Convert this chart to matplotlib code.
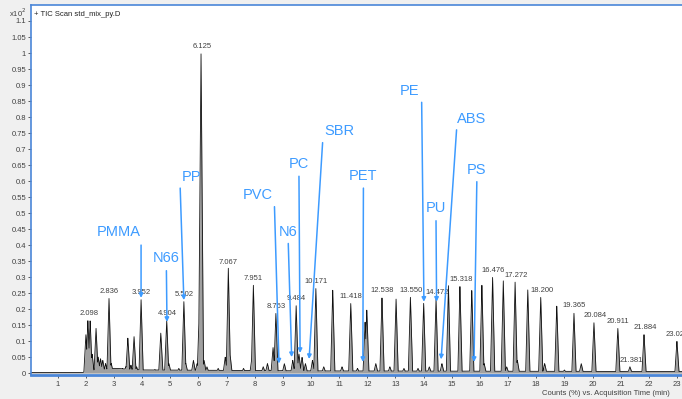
import numpy as np
import matplotlib
matplotlib.use('Agg')
import matplotlib.pyplot as plt

plt.rcParams['font.family'] = ['Liberation Sans', 'DejaVu Sans']

# peak retention times (min) and heights (x10^2 counts %)
peak_rt = [2.0, 2.07, 2.15, 2.22, 2.36, 2.44, 2.52, 2.6, 2.7, 2.82, 2.9,
           3.3, 3.42, 3.49, 3.6, 3.71, 3.8, 3.96, 4.2, 4.45, 4.66, 4.87, 4.95,
           5.3, 5.48, 5.55, 5.82, 5.95, 6.03, 6.09, 6.2, 6.3, 6.7, 6.95, 7.06, 7.12,
           7.6, 7.9, 7.95, 8.3, 8.45, 8.65, 8.75, 9.05, 9.35, 9.47, 9.57, 9.68, 9.8,
           10.05, 10.17, 10.45, 10.77, 11.1, 11.41, 11.65, 11.92, 11.98, 12.3, 12.52,
           12.8, 13.02, 13.3, 13.53, 13.8, 14.0, 14.2, 14.44, 14.65, 14.88, 15.29,
           15.71, 16.07, 16.15, 16.45, 16.83, 16.95, 17.25, 17.33, 17.7, 18.16, 18.3,
           18.73, 19.0, 19.34, 19.6, 20.05, 20.9, 21.33, 21.83, 23.0]
peak_h = [0.12, 0.165, 0.165, 0.06, 0.14, 0.05, 0.045, 0.04, 0.03, 0.235, 0.03,
          0.015, 0.02, 0.11, 0.025, 0.115, 0.02, 0.23, 0.01, 0.012, 0.125, 0.165, 0.03,
          0.015, 0.225, 0.03, 0.04, 0.03, 0.2, 1.0, 0.04, 0.02, 0.015, 0.05, 0.328, 0.06,
          0.015, 0.05, 0.275, 0.02, 0.03, 0.08, 0.187, 0.03, 0.04, 0.212, 0.06, 0.05, 0.03,
          0.04, 0.265, 0.02, 0.26, 0.02, 0.218, 0.015, 0.16, 0.2, 0.03, 0.238,
          0.02, 0.233, 0.015, 0.237, 0.015, 0.22, 0.02, 0.233, 0.03, 0.275, 0.272,
          0.262, 0.278, 0.03, 0.3, 0.29, 0.02, 0.285, 0.04, 0.26, 0.238, 0.03,
          0.212, 0.01, 0.19, 0.03, 0.16, 0.14, 0.02, 0.122, 0.1]

# baseline level
base_t = [0.05, 1.9, 2.0, 3.0, 4.0, 6.0, 10.0, 16.0, 23.2]
base_y = [0.002, 0.002, 0.008, 0.015, 0.01, 0.009, 0.007, 0.006, 0.005]

# labelled peaks
lab_txt = ['2.098', '2.836', '3.952', '4.904', '5.502', '6.125', '7.067', '7.951',
           '8.763', '9.484', '10.171', '11.418', '12.538', '13.550', '14.472',
           '15.318', '16.476', '17.272', '18.200', '19.365', '20.084', '20.911',
           '21.381', '21.884', '23.020']
lab_h = [0.168, 0.236, 0.232, 0.166, 0.226, 1.0, 0.328, 0.276, 0.188, 0.213, 0.266,
         0.219, 0.239, 0.238, 0.234, 0.273, 0.301, 0.286, 0.239, 0.191, 0.161, 0.141,
         0.021, 0.123, 0.101]

# polymer markers: name, text pos, arrow start, arrow end
poly = ['PMMA', 'N66', 'PP', 'PVC', 'N6', 'PC', 'SBR', 'PET', 'PE', 'PU', 'ABS', 'PS']
txt_xy = [(3.15, 0.44), (4.84, 0.36), (5.76, 0.613), (8.09, 0.556), (9.17, 0.44),
          (9.55, 0.653), (11.0, 0.757), (11.86, 0.615), (13.49, 0.882), (14.44, 0.515),
          (15.71, 0.795), (15.89, 0.635)]
arr_from = [(3.96, 0.40), (4.86, 0.32), (5.35, 0.578), (8.70, 0.52), (9.19, 0.405),
            (9.57, 0.615), (10.41, 0.72), (11.86, 0.578), (13.93, 0.846), (14.44, 0.476),
            (15.17, 0.76), (15.89, 0.598)]
arr_to = [(3.96, 0.235), (4.88, 0.16), (5.48, 0.228), (8.86, 0.03), (9.31, 0.05),
          (9.61, 0.063), (9.93, 0.044), (11.84, 0.035), (14.01, 0.223), (14.46, 0.223),
          (14.62, 0.043), (15.79, 0.035)]

blue = '#3d9bff'
grey_txt = '#404040'

t = np.linspace(0.05, 23.2, 9000)
trace = np.interp(t, base_t, base_y)
for rt, h in zip(peak_rt, peak_h):
    ww = 0.09 if h > 0.5 else 0.075
    trace = np.maximum(trace, h * np.clip(1 - np.abs(t - rt) / ww, 0, None))

fig = plt.figure(figsize=(6.82, 3.99), dpi=100, facecolor='#f0f0f0')
ax = fig.add_axes([0.0455, 0.06, 0.9545, 0.9275])
ax.set_facecolor('white')

ax.fill_between(t, 0, trace, color='#a0a0a0', lw=0)
ax.plot(t, trace, color='#111111', lw=0.6)

for s, h in zip(lab_txt, lab_h):
    ax.text(float(s), h + 0.008, s, fontsize=5.5, color=grey_txt,
            ha='center', va='bottom', clip_on=False)

for name, (tx, ty), (x0, y0), (x1, y1) in zip(poly, txt_xy, arr_from, arr_to):
    ax.text(tx, ty, name, fontsize=10.5, color=blue, ha='center', va='center')
    ax.annotate('', xy=(x1, y1), xytext=(x0, y0),
                arrowprops=dict(arrowstyle='-|>', color=blue, lw=1.1,
                                mutation_scale=6, shrinkA=0, shrinkB=0))

ax.set_xlim(0.05, 23.18)
ax.set_ylim(-0.006, 1.15)
ax.set_xticks(range(1, 24))
ax.set_yticks(np.arange(0, 1.101, 0.05))
ax.set_yticklabels(['0'] + ['%g' % v for v in np.arange(0.05, 1.101, 0.05)])
ax.tick_params(axis='both', labelsize=5.5, colors=grey_txt, length=2.5, width=0.6)
ax.tick_params(axis='x', pad=1.5)
ax.tick_params(axis='y', pad=1)

for side in ['left', 'top']:
    ax.spines[side].set_color('#4a86d8')
    ax.spines[side].set_linewidth(1.2)
ax.spines['bottom'].set_color('#4a86d8')
ax.spines['bottom'].set_linewidth(2)
ax.spines['right'].set_visible(False)

ax.text(0.005, 0.985, '+ TIC Scan std_mix_py.D', transform=ax.transAxes,
        fontsize=5.5, color='#222222', ha='left', va='top')
fig.text(18 / 682, 1 - 13 / 399, r'x10$^{2}$', fontsize=5.5, color=grey_txt,
         ha='center', va='center')
fig.text(670 / 682, 1 - 393.5 / 399, 'Counts (%) vs. Acquisition Time (min)',
         fontsize=5.5, color=grey_txt, ha='right', va='center')

fig.savefig('out.png', dpi=100, facecolor=fig.get_facecolor())
